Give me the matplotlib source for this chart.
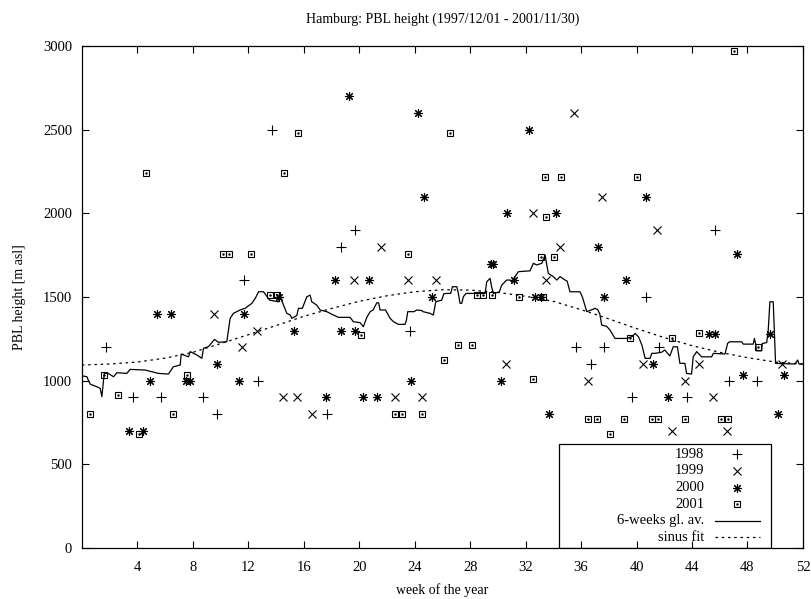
import matplotlib
matplotlib.use('Agg')
import matplotlib.pyplot as plt
from matplotlib.lines import Line2D
from matplotlib.patches import Rectangle

plt.rcParams['font.family'] = ['Liberation Serif', 'DejaVu Serif']
plt.rcParams['font.size'] = 10

# 1998 (+)
weeks_1998 = [1.73, 3.72, 5.72, 8.72, 9.73, 11.72, 12.73, 13.70, 17.7, 18.7, 19.7, 23.67,
              35.64, 36.7, 37.66, 39.65, 40.66, 41.65, 43.66, 45.66, 46.67, 48.67]
pbl_1998 = [1200, 900, 900, 900, 800, 1600, 1000, 2500, 800, 1800, 1900, 1300,
            1200, 1100, 1200, 900, 1500, 1200, 900, 1900, 1000, 1000]

# 1999 (x)
weeks_1999 = [9.56, 11.58, 12.6, 14.5, 15.5, 16.6, 19.6, 21.55, 22.57, 23.55, 24.56, 25.55,
              30.57, 32.5, 33.5, 34.5, 35.5, 36.5, 37.5, 40.5, 41.5, 42.54, 43.5, 44.5,
              45.5, 46.5, 50.5]
pbl_1999 = [1400, 1200, 1300, 900, 900, 800, 1600, 1800, 900, 1600, 900, 1600,
            1100, 2000, 1600, 1800, 2600, 1000, 2100, 1100, 1900, 700, 1000, 1100,
            900, 700, 1100]

# 2000 (asterisk)
weeks_2000 = [3.43, 4.44, 4.88, 5.43, 6.44, 7.5, 7.8, 9.72, 11.3, 11.7, 14.25, 15.3,
              17.6, 18.26, 18.7, 19.27, 19.7, 20.26, 20.67, 21.27, 23.7, 24.27, 24.68,
              25.25, 29.5, 29.65, 30.23, 30.69, 31.2, 32.27, 32.7, 33.1, 33.67, 34.2,
              37.25, 37.68, 39.24, 40.68, 41.2, 42.24, 45.2, 45.66, 47.22, 47.65, 49.62,
              50.2, 50.65]
pbl_2000 = [700, 700, 1000, 1400, 1400, 1000, 1000, 1100, 1000, 1400, 1500, 1300,
            900, 1600, 1300, 2700, 1300, 900, 1600, 900, 1000, 2600, 2100,
            1500, 1700, 1700, 1000, 2000, 1600, 2500, 1500, 1500, 800, 2000,
            1800, 1500, 1600, 2100, 1100, 900, 1280, 1280, 1760, 1035, 1280,
            800, 1035]

# 2001 (box)
weeks_2001 = [0.6, 1.58, 2.6, 4.13, 4.6, 6.6, 7.59, 10.14, 10.62, 12.16, 13.58, 14.1,
              14.58, 15.57, 20.14, 22.56, 23.09, 23.55, 24.56, 26.12, 26.55, 27.13,
              28.14, 28.48, 28.95, 29.55, 31.5, 32.53, 33.1, 33.28, 33.4, 33.48, 34.07,
              34.54, 36.52, 37.13, 38.09, 39.1, 39.53, 40.06, 41.1, 41.57, 42.54, 43.5,
              44.5, 46.1, 46.58, 47.05, 48.78]
pbl_2001 = [800, 1035, 915, 680, 2240, 800, 1035, 1760, 1760, 1760, 1515, 1515,
            2240, 2480, 1275, 800, 800, 1760, 800, 1125, 2480, 1215,
            1215, 1515, 1515, 1515, 1500, 1010, 1740, 1500, 2215, 1980, 1740,
            2215, 770, 770, 680, 770, 1255, 2215, 770, 770, 1255, 770,
            1285, 770, 770, 2970, 1200]

# 6-weeks gliding average
avg_weeks = [0.0, 0.36, 0.48, 0.6, 1.08, 1.32, 1.44, 1.61, 1.9, 2.28, 2.52, 3.24, 3.48,
             4.56, 5.52, 6.24, 6.6, 7.09, 7.16, 7.69, 7.81, 8.29, 8.65, 8.77, 9.13, 9.56,
             9.85, 10.45, 10.69, 10.93, 11.41, 11.77, 12.26, 12.5, 12.74, 13.1, 13.53,
             14.18, 14.3, 14.78, 15.02, 15.14, 15.5, 15.62, 15.9, 16.22, 16.46, 16.58,
             16.94, 17.18, 17.66, 18.14, 18.5, 19.34, 19.58, 20.07, 20.3, 20.55, 20.79,
             21.0, 21.27, 21.4, 21.5, 21.9, 22.23, 22.47, 22.83, 23.3, 23.4, 23.5, 23.95,
             24.15, 24.5, 24.6, 25.11, 25.35, 25.52, 25.95, 26.1, 26.32, 26.6, 26.72,
             27.04, 27.15, 27.27, 27.4, 27.51, 27.7, 29.08, 29.2, 29.44, 29.55, 29.68,
             30.1, 30.28, 30.64, 30.88, 31.0, 31.24, 31.48, 32.32, 32.56, 32.8, 33.17,
             33.41, 33.53, 33.64, 34.0, 34.25, 34.49, 34.85, 35.0, 35.2, 35.92, 36.1,
             36.41, 36.8, 37.0, 37.2, 37.35, 37.49, 37.85, 38.09, 38.45, 39.29, 39.7,
             39.9, 40.14, 40.39, 40.62, 40.98, 41.1, 41.34, 41.8, 42.04, 42.4, 42.65,
             42.95, 43.13, 43.49, 43.61, 43.97, 44.09, 44.34, 44.7, 45.42, 45.54, 46.38,
             46.57, 46.7, 47.58, 47.7, 48.42, 48.5, 48.6, 48.65, 49.03, 49.07, 49.39,
             49.5, 49.62, 49.86, 50.03, 51.43, 51.62, 51.72, 52.0]
avg_pbl = [1030, 1024, 1000, 980, 964, 955, 905, 1044, 1044, 1024, 1048, 1044, 1068,
           1064, 1044, 1040, 1084, 1094, 1160, 1143, 1174, 1154, 1134, 1194, 1204, 1247,
           1230, 1233, 1373, 1403, 1423, 1433, 1463, 1492, 1532, 1532, 1482,
           1472, 1502, 1403, 1393, 1373, 1390, 1433, 1433, 1502, 1512, 1472,
           1452, 1423, 1413, 1393, 1379, 1379, 1353, 1347, 1323, 1379, 1413,
           1423, 1466, 1466, 1423, 1423, 1373, 1353, 1337, 1337, 1360, 1413, 1413,
           1423, 1420, 1413, 1403, 1393, 1472, 1482, 1520, 1522, 1522, 1562,
           1562, 1522, 1463, 1463, 1502, 1522, 1522, 1592, 1612, 1560, 1522,
           1530, 1572, 1602, 1602, 1590, 1622, 1652, 1657, 1702, 1692, 1702,
           1751, 1692, 1642, 1622, 1602, 1622, 1602, 1595, 1532, 1532, 1500,
           1413, 1425, 1433, 1425, 1400, 1333, 1325, 1303, 1253, 1253, 1265,
           1283, 1263, 1213, 1134, 1134, 1164, 1164, 1170, 1184, 1148, 1203,
           1203, 1104, 1104, 1044, 1040, 1143, 1174, 1143, 1143, 1164, 1160,
           1223, 1233, 1233, 1219, 1219, 1253, 1219, 1179, 1179, 1223, 1228,
           1303, 1472, 1472, 1104, 1100, 1124, 1100, 1100]

fit_weeks = list(range(0, 53, 2))
fit_pbl = [1094, 1100, 1112, 1135, 1170, 1222, 1275, 1330, 1385, 1432, 1475, 1508, 1532,
           1544, 1542, 1528, 1505, 1475, 1425, 1370, 1312, 1258, 1210, 1170, 1138, 1112, 1100]

legend_labels = ['1998', '1999', '2000', '2001', '6-weeks gl. av.', 'sinus fit']

star = (8, 2, 0)
styles = [
    dict(marker='+', markersize=6.5, markeredgewidth=0.8),
    dict(marker='x', markersize=5.5, markeredgewidth=0.8),
    dict(marker=star, markersize=6.5, markeredgewidth=0.8),
    dict(marker='s', markersize=5, markeredgewidth=0.8, markerfacecolor='none'),
]

fig = plt.figure(figsize=(8.11, 5.99), dpi=100)
ax = fig.add_axes([0.101, 0.085, 0.889, 0.838])

series = [(weeks_1998, pbl_1998), (weeks_1999, pbl_1999),
          (weeks_2000, pbl_2000), (weeks_2001, pbl_2001)]
for (w, v), st in zip(series, styles):
    ax.plot(w, v, linestyle='none', color='black', **st)
# centre dots of the boxes
ax.plot(weeks_2001, pbl_2001, linestyle='none', marker='.', markersize=1.5, color='black')

ax.plot(avg_weeks, avg_pbl, color='black', linewidth=0.9)
ax.plot(fit_weeks, fit_pbl, color='black', linewidth=0.9, dashes=(2, 3))

ax.set_xlim(0, 52)
ax.set_ylim(0, 3000)
ax.set_xticks(range(4, 53, 4))
ax.set_yticks(range(0, 3001, 500))
ax.tick_params(direction='in', length=5, width=0.8, top=True, right=True, labelsize=10.5)
ax.tick_params(axis='x', pad=9)
ax.tick_params(axis='y', pad=7)
for s in ax.spines.values():
    s.set_linewidth(0.9)

ax.set_title('Hamburg: PBL height (1997/12/01 - 2001/11/30)', fontsize=10, pad=17)
ax.set_xlabel('week of the year', fontsize=10, labelpad=7)
ax.set_ylabel('PBL height [m asl]', fontsize=10, labelpad=12)

# gnuplot style key, bottom right
tr = ax.transAxes
ax.add_patch(Rectangle((0.662, 0.0), 0.294, 0.2066, transform=tr, fill=False,
                       edgecolor='black', linewidth=0.9, zorder=5))
key_y = [0.187, 0.154, 0.120, 0.0876, 0.0544, 0.0213]
for lab, y in zip(legend_labels, key_y):
    ax.text(0.863, y, lab, transform=tr, ha='right', va='center', fontsize=10.5, zorder=6)
for st, y in zip(styles, key_y[:4]):
    ax.add_line(Line2D([0.909], [y], transform=tr, linestyle='none', color='black', zorder=6, **st))
ax.add_line(Line2D([0.909], [key_y[3]], transform=tr, linestyle='none', marker='.',
                   markersize=1.5, color='black', zorder=6))
ax.add_line(Line2D([0.878, 0.941], [key_y[4]] * 2, transform=tr, color='black', linewidth=0.9, zorder=6))
ax.add_line(Line2D([0.878, 0.941], [key_y[5]] * 2, transform=tr, color='black', linewidth=0.9,
                   dashes=(2, 3), zorder=6))

fig.savefig('out.png', dpi=100)
plt.close(fig)
